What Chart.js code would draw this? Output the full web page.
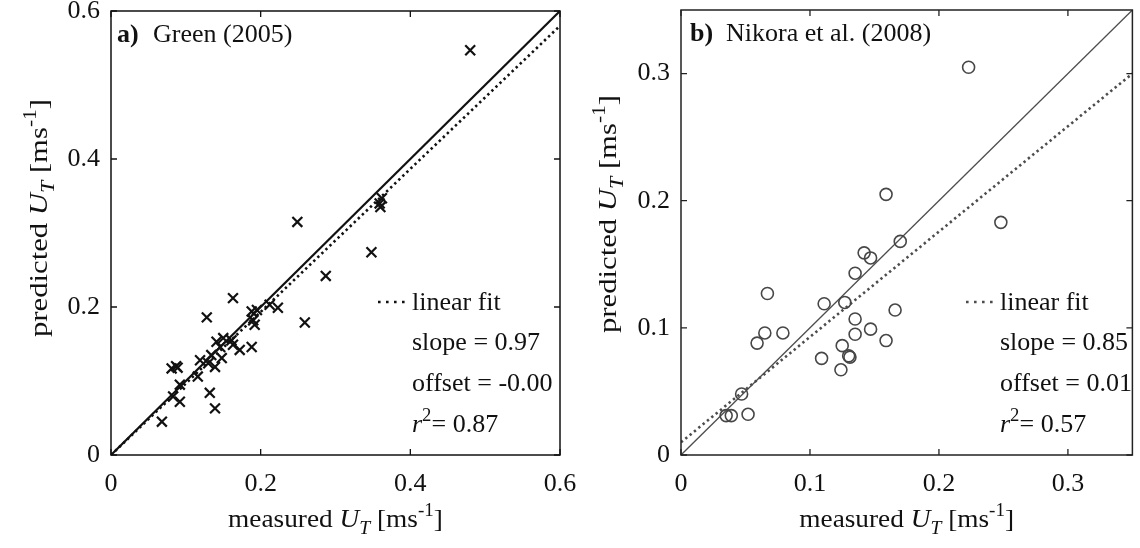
<!DOCTYPE html>
<html><head><meta charset="utf-8">
<script src="https://cdn.jsdelivr.net/npm/chart.js@4/dist/chart.umd.min.js"></script>
<style>
html,body{margin:0;padding:0;background:#fff;}
#wrap{position:relative;width:1140px;height:548px;overflow:hidden;}
.pane{position:absolute;top:0;height:548px;}
</style></head><body>
<div id="wrap">
<div class="pane" style="left:0;width:600px"><canvas id="ca" width="600" height="548"></canvas></div>
<div class="pane" style="left:570px;width:570px"><canvas id="cb" width="570" height="548"></canvas></div>
</div>
<script>
// ---------- data: panel a) Green (2005) ----------
const measuredA = [0.480,0.359,0.362,0.360,0.249,0.348,0.287,0.223,0.212,0.259,0.163,0.128,0.188,0.195,0.190,0.192,0.188,0.172,0.163,0.150,0.161,0.141,0.146,0.148,0.139,0.134,0.119,0.130,0.116,0.081,0.087,0.089,0.092,0.083,0.092,0.132,0.139,0.068];
const predictedA = [0.547,0.340,0.347,0.335,0.315,0.274,0.242,0.199,0.203,0.179,0.212,0.186,0.194,0.196,0.182,0.176,0.146,0.142,0.149,0.158,0.155,0.153,0.146,0.131,0.119,0.135,0.128,0.124,0.106,0.117,0.120,0.118,0.095,0.079,0.072,0.084,0.063,0.045];
const lineXA = [0, 0.6];
const oneToOneA = [0, 0.6];
const fitA = [0, 0.58];
const ticksA = [0, 0.2, 0.4, 0.6];
const tickLabelsA = ['0', '0.2', '0.4', '0.6'];
const statsA = ['0.97', '-0.00', '0.87'];

// ---------- data: panel b) Nikora et al. (2008) ----------
const measuredB = [0.223,0.248,0.159,0.170,0.142,0.147,0.135,0.127,0.111,0.166,0.135,0.147,0.135,0.159,0.125,0.130,0.131,0.109,0.124,0.067,0.065,0.079,0.059,0.047,0.035,0.039,0.052];
const predictedB = [0.305,0.183,0.205,0.168,0.159,0.155,0.143,0.120,0.119,0.114,0.107,0.099,0.095,0.090,0.086,0.078,0.077,0.076,0.067,0.127,0.096,0.096,0.088,0.048,0.031,0.031,0.032];
const lineXB = [0, 0.35];
const oneToOneB = [0, 0.35];
const fitB = [0.01, 0.30];
const ticksB = [0, 0.1, 0.2, 0.3];
const tickLabelsB = ['0', '0.1', '0.2', '0.3'];
const statsB = ['0.85', '0.01', '0.57'];

const FONT = '"Liberation Serif", "Times New Roman", Times, serif';
const FS = 26;

function segFont(s, size) {
  const st = s.s === 'italic' ? 'italic ' : '';
  const wt = s.s === 'bold' ? 'bold ' : '';
  return st + wt + (size * (s.k || 1)) + 'px ' + FONT;
}
function richWidth(ctx, segs, size) {
  let w = 0;
  segs.forEach(s => { ctx.font = segFont(s, size); w += ctx.measureText(s.t).width; });
  return w;
}
function drawRich(ctx, segs, x, y, size, align, stretch) {
  const sx = stretch || 1;
  ctx.save();
  ctx.translate(x, y);
  ctx.scale(sx, 1);
  let cx = 0;
  const w = richWidth(ctx, segs, size);
  if (align === 'center') cx = -w / 2;
  ctx.textAlign = 'left';
  ctx.textBaseline = 'alphabetic';
  segs.forEach(s => {
    ctx.font = segFont(s, size);
    ctx.fillText(s.t, cx, (s.dy || 0));
    cx += ctx.measureText(s.t).width;
  });
  ctx.restore();
}
function unitLabel(word) {
  return [
    {t: word + ' ', s: 'normal'},
    {t: 'U', s: 'italic'},
    {t: 'T', s: 'italic', k: 0.72, dy: 7},
    {t: ' [ms', s: 'normal'},
    {t: '-1', s: 'normal', k: 0.7, dy: -11},
    {t: ']', s: 'normal'}
  ];
}

function panelPlugin(cfg) {
  return {
    id: 'panel' + cfg.key,
    afterDraw(chart) {
      const ctx = chart.ctx, ca = chart.chartArea;
      const xs = chart.scales.x, ys = chart.scales.y;
      ctx.save();
      ctx.strokeStyle = cfg.frame;
      ctx.lineWidth = 1.5;
      ctx.strokeRect(ca.left, ca.top, ca.right - ca.left, ca.bottom - ca.top);
      ctx.lineWidth = 1.3;
      ctx.beginPath();
      cfg.ticks.forEach(v => {
        const px = xs.getPixelForValue(v);
        ctx.moveTo(px, ca.bottom); ctx.lineTo(px, ca.bottom - 6);
        ctx.moveTo(px, ca.top); ctx.lineTo(px, ca.top + 6);
        const py = ys.getPixelForValue(v);
        ctx.moveTo(ca.left, py); ctx.lineTo(ca.left + 6, py);
        ctx.moveTo(ca.right, py); ctx.lineTo(ca.right - 6, py);
      });
      ctx.stroke();

      ctx.fillStyle = '#111';
      // panel title
      drawRich(ctx, [{t: cfg.letter, s: 'bold'}], ca.left + cfg.titleDx, ca.top + 31, FS, 'left');
      drawRich(ctx, [{t: cfg.title, s: 'normal'}], ca.left + cfg.titleDx + 36, ca.top + 31, FS, 'left');

      // legend sample (dotted)
      const lx = cfg.legX, ly = 302;
      ctx.strokeStyle = cfg.fitColor;
      ctx.lineWidth = 2.6;
      ctx.setLineDash([2.6, 5.4]);
      ctx.beginPath(); ctx.moveTo(lx - 34, ly); ctx.lineTo(lx - 4, ly); ctx.stroke();
      ctx.setLineDash([]);
      ctx.fillStyle = '#111';
      drawRich(ctx, [{t: 'linear fit', s: 'normal'}], lx, 310, FS, 'left');
      drawRich(ctx, [{t: 'slope = ' + cfg.stats[0], s: 'normal'}], lx, 350, FS, 'left');
      drawRich(ctx, [{t: 'offset = ' + cfg.stats[1], s: 'normal'}], lx, 391, FS, 'left');
      drawRich(ctx, [{t: 'r', s: 'italic'}, {t: '2', s: 'normal', k: 0.72, dy: -11}, {t: '= ' + cfg.stats[2], s: 'normal'}], lx, 432, FS, 'left');

      // axis titles
      drawRich(ctx, unitLabel('measured'), (ca.left + ca.right) / 2, 527, FS, 'center', 1.05);
      ctx.save();
      ctx.translate(cfg.yTitleX, cfg.yTitleY);
      ctx.rotate(-Math.PI / 2);
      drawRich(ctx, unitLabel('predicted'), 0, 0, FS, 'center', 1.18);
      ctx.restore();
      ctx.restore();
    }
  };
}

function pts(xs, ys) { return xs.map((v, i) => ({x: v, y: ys[i]})); }

function makeChart(id, c) {
  const tickFont = {family: FONT, size: FS};
  return new Chart(document.getElementById(id), {
    type: 'scatter',
    data: {
      datasets: [
        {
          label: 'data',
          data: pts(c.mx, c.py),
          pointStyle: c.marker,
          radius: c.radius,
          borderColor: c.markColor,
          backgroundColor: 'rgba(0,0,0,0)',
          borderWidth: c.markWidth,
          showLine: false
        },
        {
          label: '1:1',
          data: pts(c.lineX, c.oneToOne),
          showLine: true,
          borderColor: c.lineColor,
          borderWidth: c.lineWidth,
          pointRadius: 0,
          fill: false
        },
        {
          label: 'linear fit',
          data: pts(c.lineX, c.fit),
          showLine: true,
          borderColor: c.lineColor,
          borderWidth: 2.6,
          borderDash: [2.4, 3.2],
          pointRadius: 0,
          fill: false
        }
      ]
    },
    options: {
      responsive: false,
      animation: false,
      devicePixelRatio: 1,
      layout: {padding: {top: c.padTop, right: c.padRight, left: 0, bottom: 0}},
      plugins: {legend: {display: false}, tooltip: {enabled: false}},
      scales: {
        x: {
          type: 'linear', min: 0, max: c.max,
          grid: {display: false, drawTicks: false},
          border: {display: false},
          afterBuildTicks: s => { s.ticks = c.ticks.map(v => ({value: v})); },
          ticks: {
            font: tickFont, color: '#111', padding: 14, maxRotation: 0, autoSkip: false,
            callback: v => c.labels[c.ticks.indexOf(v)]
          },
          afterFit: s => { s.height = 93; s.paddingLeft = 0; s.paddingRight = 0; }
        },
        y: {
          type: 'linear', min: 0, max: c.max,
          grid: {display: false, drawTicks: false},
          border: {display: false},
          afterBuildTicks: s => { s.ticks = c.ticks.map(v => ({value: v})); },
          ticks: {
            font: tickFont, color: '#111', padding: 11, autoSkip: false,
            callback: v => c.labels[c.ticks.indexOf(v)]
          },
          afterFit: s => { s.width = 111; s.paddingTop = 0; s.paddingBottom = 0; }
        }
      }
    },
    plugins: [panelPlugin(c.panel)]
  });
}

makeChart('ca', {
  mx: measuredA, py: predictedA, lineX: lineXA, oneToOne: oneToOneA, fit: fitA,
  max: 0.6, ticks: ticksA, labels: tickLabelsA,
  marker: 'crossRot', radius: 7, markColor: '#111', markWidth: 2.2,
  lineColor: '#111', lineWidth: 2.2,
  padTop: 11, padRight: 40,
  panel: {key: 'A', frame: '#111', ticks: ticksA, letter: 'a)', title: 'Green (2005)', titleDx: 6,
          legX: 412, fitColor: '#111', stats: statsA, yTitleX: 47, yTitleY: 218}
});
makeChart('cb', {
  mx: measuredB, py: predictedB, lineX: lineXB, oneToOne: oneToOneB, fit: fitB,
  max: 0.35, ticks: ticksB, labels: tickLabelsB,
  marker: 'circle', radius: 6, markColor: '#474747', markWidth: 1.6,
  lineColor: '#4d4d4d', lineWidth: 1.3,
  padTop: 10, padRight: 6,
  panel: {key: 'B', frame: '#222', ticks: ticksB, letter: 'b)', title: 'Nikora et al. (2008)', titleDx: 9,
          legX: 430, fitColor: '#4d4d4d', stats: statsB, yTitleX: 46, yTitleY: 214}
});
</script>
</body></html>
